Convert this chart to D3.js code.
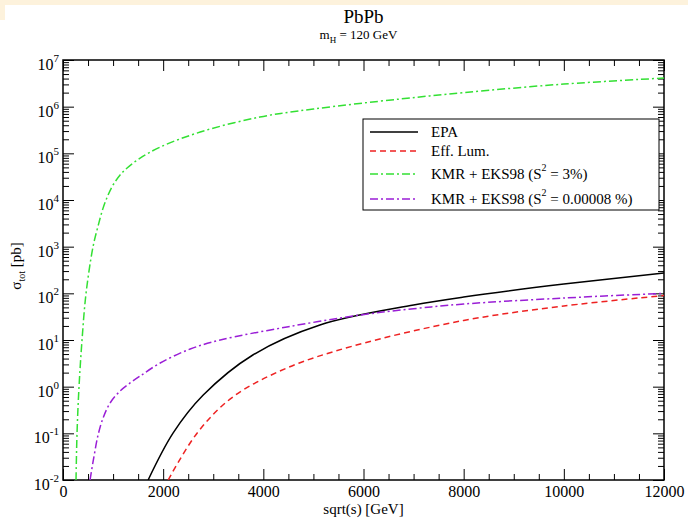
<!DOCTYPE html>
<html>
<head>
<meta charset="utf-8">
<script src="https://cdn.jsdelivr.net/npm/d3@7"></script>
<style>
  body { margin: 0; background: #fff; }
  svg { display: block; font-family: "Liberation Serif", "Times New Roman", serif; }
</style>
</head>
<body>
<div id="chart"></div>
<script>
// curves: sqrt(s) in GeV, sigma_tot in pb
const sqrtS_epa = [1700, 2200, 2800, 3790, 5130, 7000, 8000, 10000, 12000];
const sigma_epa = [0.01, 0.102, 0.66, 4.77, 21.0, 56.2, 83.4, 158, 273];

const sqrtS_lum = [2100, 2680, 3390, 4470, 5790, 8000, 10000, 12000];
const sigma_lum = [0.01, 0.102, 0.6, 2.51, 7.43, 26.2, 53.5, 89.8];

const sqrtS_kmr3 = [260, 280, 320, 380, 460, 600, 700, 800, 900, 1000, 1140, 1280, 1540, 1940, 2740, 3930, 5000, 6730, 8000, 10000, 12000];
const sigma_kmr3 = [0.01, 0.1, 1, 10, 100, 1000, 2770, 6700, 1.28e4, 2.1e4, 3.44e4, 4.85e4, 7.9e4, 1.36e5, 2.86e5, 6.0e5, 8.9e5, 1.46e6, 2.0e6, 3.05e6, 4.1e6];

const sqrtS_kmr8 = [540, 620, 700, 800, 940, 1140, 1340, 1540, 1940, 2540, 3140, 4470, 5930, 7000, 8000, 10000, 12000];
const sigma_kmr8 = [0.01, 0.0327, 0.092, 0.213, 0.447, 0.807, 1.2, 1.69, 3.21, 6.41, 10, 19, 34.3, 46.8, 59, 79.4, 100];

const xTicks = [0, 2000, 4000, 6000, 8000, 10000, 12000];
const yExponents = [-2, -1, 0, 1, 2, 3, 4, 5, 6, 7];

const seriesNames = ["EPA", "Eff. Lum.", "KMR + EKS98 (S|2| = 3%)", "KMR + EKS98 (S|2| = 0.00008 %)"];

const W = 688, H = 519;
const MARGIN = { TOP: 60, BOTTOM: 39, LEFT: 63, RIGHT: 24 };
const w = W - MARGIN.LEFT - MARGIN.RIGHT;
const h = H - MARGIN.TOP - MARGIN.BOTTOM;
const MAJOR = 11, MINOR = 6;

const styles = [
  { color: "#000000", dash: null },
  { color: "#ee2222", dash: "6,4" },
  { color: "#33e033", dash: "8,3,2,3" },
  { color: "#9a1ed6", dash: "8,3,2,3" }
];

const svg = d3.select("#chart").append("svg")
  .attr("width", W).attr("height", H);

// cream frame strip seen at the top
svg.append("rect").attr("x", 0).attr("y", 0).attr("width", W).attr("height", 5).attr("fill", "#fdf2dc");
svg.append("rect").attr("x", 0).attr("y", 0).attr("width", 5).attr("height", 20).attr("fill", "#fdf2dc");

const g = svg.append("g").attr("transform", `translate(${MARGIN.LEFT},${MARGIN.TOP})`);

const x = d3.scaleLinear().domain([0, 12000]).range([0, w]);
const y = d3.scaleLog().domain([1e-2, 1e7]).range([h, 0]);

g.append("clipPath").attr("id", "clip")
  .append("rect").attr("width", w).attr("height", h);

// minor ticks
const xMinor = d3.range(0, 12001, 500).filter(v => v % 2000 !== 0);
const yMinor = [];
yExponents.slice(0, -1).forEach(e => { for (let k = 2; k <= 9; k++) yMinor.push(k * Math.pow(10, e)); });
const yMajor = yExponents.map(e => Math.pow(10, e));

function styleAxis(sel) {
  sel.select(".domain").remove();
  sel.selectAll(".tick line").attr("stroke", "#000").attr("stroke-width", 1);
}

g.append("g").attr("transform", `translate(0,${h})`)
  .call(d3.axisBottom(x).tickValues(xTicks).tickSize(-MAJOR).tickPadding(6).tickFormat(d3.format("d")))
  .call(styleAxis)
  .call(s => s.selectAll(".tick text").attr("font-size", 16).attr("font-family", "Liberation Serif").attr("fill", "#000"));
g.append("g").attr("transform", `translate(0,${h})`)
  .call(d3.axisBottom(x).tickValues(xMinor).tickSize(-MINOR).tickFormat(""))
  .call(styleAxis);
g.append("g")
  .call(d3.axisTop(x).tickValues(xTicks).tickSize(-MAJOR).tickFormat(""))
  .call(styleAxis);
g.append("g")
  .call(d3.axisTop(x).tickValues(xMinor).tickSize(-MINOR).tickFormat(""))
  .call(styleAxis);

g.append("g")
  .call(d3.axisLeft(y).tickValues(yMajor).tickSize(-MAJOR).tickFormat(""))
  .call(styleAxis);
g.append("g")
  .call(d3.axisLeft(y).tickValues(yMinor).tickSize(-MINOR).tickFormat(""))
  .call(styleAxis);
g.append("g").attr("transform", `translate(${w},0)`)
  .call(d3.axisRight(y).tickValues(yMajor).tickSize(-MAJOR).tickFormat(""))
  .call(styleAxis);
g.append("g").attr("transform", `translate(${w},0)`)
  .call(d3.axisRight(y).tickValues(yMinor).tickSize(-MINOR).tickFormat(""))
  .call(styleAxis);

// y tick labels 10^n
yExponents.forEach(e => {
  const t = g.append("text")
    .attr("x", -4).attr("y", y(Math.pow(10, e)) + 10)
    .attr("text-anchor", "end").attr("font-size", 16).attr("fill", "#000");
  t.append("tspan").text("10");
  t.append("tspan").attr("dy", -8).attr("font-size", 11).text(e);
});

// frame
g.append("rect").attr("width", w).attr("height", h)
  .attr("fill", "none").attr("stroke", "#000").attr("stroke-width", 1.5);

// curves
const line = d3.line().x(d => x(d[0])).y(d => y(d[1])).curve(d3.curveCatmullRom.alpha(0.5));
const curves = [
  d3.zip(sqrtS_epa, sigma_epa),
  d3.zip(sqrtS_lum, sigma_lum),
  d3.zip(sqrtS_kmr3, sigma_kmr3),
  d3.zip(sqrtS_kmr8, sigma_kmr8)
];
const plot = g.append("g").attr("clip-path", "url(#clip)");
curves.forEach((c, i) => {
  plot.append("path").datum(c)
    .attr("d", line)
    .attr("fill", "none")
    .attr("stroke", styles[i].color)
    .attr("stroke-width", 1.5)
    .attr("stroke-dasharray", styles[i].dash);
});

// legend
const lg = svg.append("g").attr("transform", "translate(363,119)");
lg.append("rect").attr("width", 296).attr("height", 91)
  .attr("fill", "#fff").attr("stroke", "#000").attr("stroke-width", 1);
const rowsY = [13, 32, 55, 80];
seriesNames.forEach((name, i) => {
  lg.append("line").attr("x1", 7).attr("x2", 55).attr("y1", rowsY[i]).attr("y2", rowsY[i])
    .attr("stroke", styles[i].color).attr("stroke-width", 1.5)
    .attr("stroke-dasharray", styles[i].dash);
  const t = lg.append("text").attr("x", 68).attr("y", rowsY[i] + 5)
    .attr("font-size", 15).attr("fill", "#000");
  name.split("|").forEach((part, j) => {
    if (j === 1) t.append("tspan").attr("dy", -8).attr("font-size", 10).text(part);
    else if (j === 2) t.append("tspan").attr("dy", 8).text(part);
    else t.append("tspan").text(part);
  });
});

// titles
svg.append("text").attr("x", MARGIN.LEFT + w / 2).attr("y", 23)
  .attr("text-anchor", "middle").attr("font-size", 19).text("PbPb");
const sub = svg.append("text").attr("x", MARGIN.LEFT + w / 2 - 5).attr("y", 39)
  .attr("text-anchor", "middle").attr("font-size", 13);
sub.append("tspan").text("m");
sub.append("tspan").attr("dy", 4).attr("font-size", 9).text("H");
sub.append("tspan").attr("dy", -4).text(" = 120 GeV");

svg.append("text").attr("x", MARGIN.LEFT + w / 2).attr("y", 514)
  .attr("text-anchor", "middle").attr("font-size", 15).text("sqrt(s) [GeV]");

const yt = svg.append("text").attr("transform", "translate(21,266) rotate(-90)")
  .attr("text-anchor", "middle").attr("font-size", 15);
yt.append("tspan").text("σ");
yt.append("tspan").attr("dy", 4).attr("font-size", 10).text("tot");
yt.append("tspan").attr("dy", -4).text(" [pb]");
</script>
</body>
</html>
